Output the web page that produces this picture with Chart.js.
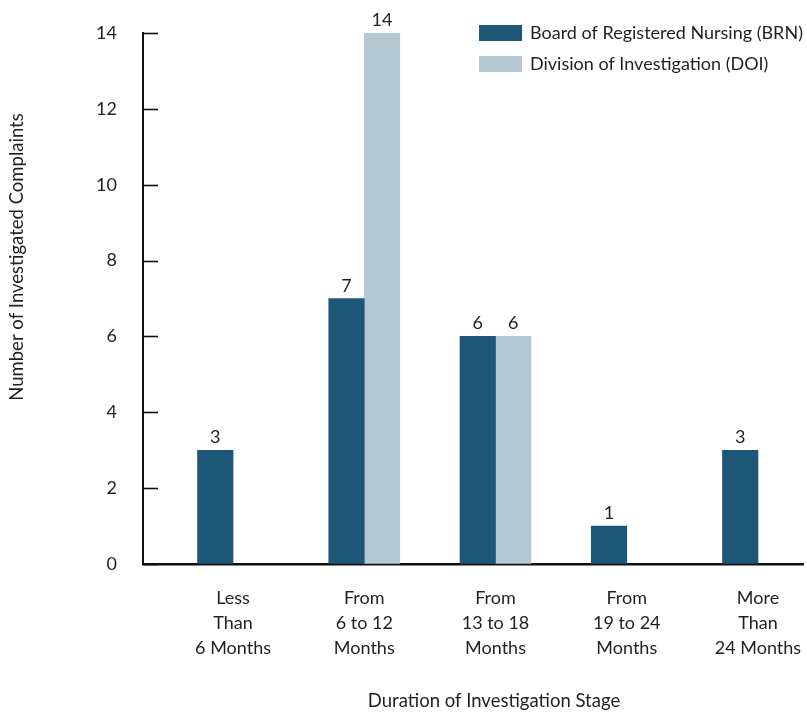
<!DOCTYPE html>
<html>
<head>
<meta charset="utf-8">
<title>Investigated Complaints by Duration of Investigation Stage</title>
<script src="https://cdn.jsdelivr.net/npm/chart.js@4.4.1/dist/chart.umd.min.js"></script>
<style>
  html, body { margin: 0; padding: 0; background: #ffffff; }
  #wrap { position: relative; width: 807px; height: 712px; }
</style>
</head>
<body>
<div id="wrap"><canvas id="chart" width="807" height="712"></canvas></div>
<script>
// Duration categories (multi-line tick labels)
const CATEGORIES = [
  ['Less', 'Than', '6 Months'],
  ['From', '6 to 12', 'Months'],
  ['From', '13 to 18', 'Months'],
  ['From', '19 to 24', 'Months'],
  ['More', 'Than', '24 Months']
];
// Number of investigated complaints per agency
const BRN_VALUES = [3, 7, 6, 1, 3];
const DOI_VALUES = [null, 14, 6, null, null];
const SERIES_NAMES = ['Board of Registered Nursing (BRN)', 'Division of Investigation (DOI)'];
const Y_TICKS = [0, 2, 4, 6, 8, 10, 12, 14];
const X_TITLE = 'Duration of Investigation Stage';
const Y_TITLE = 'Number of Investigated Complaints';

const FONT = 'Lato';
const FONT_SIZE = 18;
const TEXT = '#231f20';
const AXIS = '#111111';
const BRN_COLOR = '#1d5677';
const DOI_COLOR = '#b4c8d3';

const toPoints = vals => vals.map((y, i) => ({ x: i, y }));

// Inward tick marks on the value axis
const innerTicks = {
  id: 'innerTicks',
  afterDraw(chart) {
    const { ctx, chartArea, scales } = chart;
    const ys = scales.y;
    ctx.save();
    ctx.strokeStyle = AXIS;
    ctx.lineWidth = 1.6;
    ys.ticks.forEach(t => {
      const py = Math.round(ys.getPixelForValue(t.value)) + 0.5;
      ctx.beginPath();
      ctx.moveTo(chartArea.left, py);
      ctx.lineTo(chartArea.left + 15, py);
      ctx.stroke();
    });
    ctx.restore();
  }
};

// Value labels above each bar
const barValues = {
  id: 'barValues',
  afterDatasetsDraw(chart) {
    const { ctx } = chart;
    ctx.save();
    ctx.font = `${FONT_SIZE}px ${FONT}`;
    ctx.fillStyle = TEXT;
    ctx.textAlign = 'center';
    ctx.textBaseline = 'alphabetic';
    chart.data.datasets.forEach((ds, di) => {
      const meta = chart.getDatasetMeta(di);
      meta.data.forEach((bar, i) => {
        const v = ds.data[i].y;
        if (v === null || v === undefined) return;
        ctx.fillText(String(v), bar.x, bar.y - 7);
      });
    });
    ctx.restore();
  }
};

// Legend block in the upper right, plus both axis titles
const sideTexts = {
  id: 'sideTexts',
  afterDraw(chart) {
    const { ctx } = chart;
    ctx.save();
    ctx.font = `${FONT_SIZE}px ${FONT}`;
    ctx.textBaseline = 'middle';
    chart.data.datasets.forEach((ds, i) => {
      const top = 25 + i * 31;
      ctx.fillStyle = ds.backgroundColor;
      ctx.fillRect(479, top, 43, 16);
      ctx.fillStyle = TEXT;
      ctx.textAlign = 'left';
      ctx.fillText(ds.label, 530, top + 8.5);
    });
    ctx.fillStyle = TEXT;
    ctx.font = `18.5px ${FONT}`;
    // x-axis title
    ctx.textAlign = 'center';
    ctx.fillText(X_TITLE, 494, 701);
    // y-axis title
    ctx.translate(17, 257);
    ctx.rotate(-Math.PI / 2);
    ctx.fillText(Y_TITLE, 0, 0);
    ctx.restore();
  }
};

new Chart(document.getElementById('chart'), {
  type: 'bar',
  data: {
    datasets: [
      { label: SERIES_NAMES[0], data: toPoints(BRN_VALUES), backgroundColor: BRN_COLOR },
      { label: SERIES_NAMES[1], data: toPoints(DOI_VALUES), backgroundColor: DOI_COLOR }
    ]
  },
  options: {
    responsive: false,
    animation: false,
    devicePixelRatio: 1,
    barThickness: 35.5,
    layout: { padding: { left: 0, right: 4, top: 33, bottom: 0 } },
    plugins: { legend: { display: false }, tooltip: { enabled: false } },
    scales: {
      x: {
        type: 'linear',
        position: 'bottom',
        offset: false,
        bounds: 'data',
        min: -0.686,
        max: 4.343,
        afterBuildTicks: s => { s.ticks = CATEGORIES.map((_, i) => ({ value: i })); },
        afterFit: s => { s.height = 148; s.paddingLeft = 0; s.paddingRight = 0; },
        grid: { display: false, offset: false },
        border: { display: true, color: AXIS, width: 2.6 },
        ticks: {
          autoSkip: false,
          maxRotation: 0,
          minRotation: 0,
          padding: 14,
          color: TEXT,
          font: { family: FONT, size: FONT_SIZE, lineHeight: 25 / FONT_SIZE },
          callback: v => CATEGORIES[v] || ''
        }
      },
      y: {
        min: 0,
        max: 14,
        afterBuildTicks: s => { s.ticks = Y_TICKS.map(v => ({ value: v })); },
        afterFit: s => { s.width = 143; s.paddingTop = 0; s.paddingBottom = 0; },
        grid: { drawOnChartArea: false, drawTicks: false },
        border: { display: true, color: AXIS, width: 2 },
        ticks: {
          padding: 26,
          color: TEXT,
          font: { family: FONT, size: FONT_SIZE }
        }
      }
    }
  },
  plugins: [innerTicks, barValues, sideTexts]
});
</script>
</body>
</html>
